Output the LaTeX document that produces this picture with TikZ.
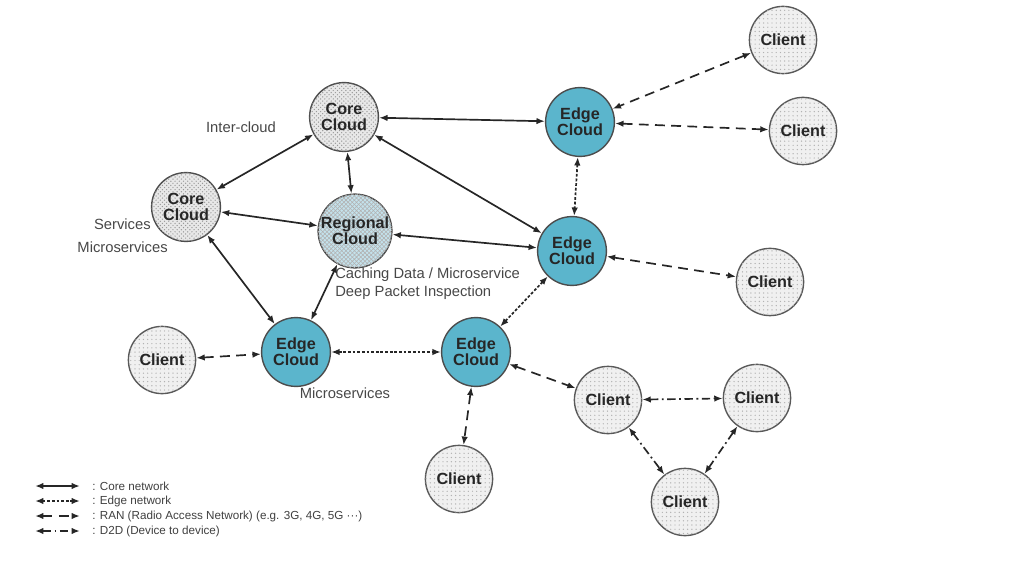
\documentclass[tikz,border=0pt]{standalone}
\usepackage{fontspec}
\setmainfont{Liberation Sans}
\usetikzlibrary{arrows.meta,patterns}
\definecolor{edgeblue}{HTML}{5BB5CC}
\definecolor{regblue}{HTML}{C4E2EC}
\tikzset{
  x=0.025cm, y=-0.025cm,
  >={Latex[length=6pt,width=4.6pt]},
  cloudtxt/.style={font=\fontsize{11.5}{11.5}\selectfont\bfseries, align=center, text=black!85},
  corecloud/.style={circle, draw=black!70, line width=1pt, minimum size=1.72cm, inner sep=0pt, cloudtxt,
     fill=gray!18, postaction={pattern=crosshatch dots, pattern color=black!40}},
  regcloud/.style={circle, draw=black!70, line width=1pt, minimum size=1.72cm, inner sep=0pt, cloudtxt,
     fill=regblue, postaction={pattern=crosshatch, pattern color=black!30}},
  edgecloud/.style={circle, draw=black!70, line width=1pt, minimum size=1.72cm, inner sep=0pt, cloudtxt,
     fill=edgeblue},
  clientnode/.style={circle, draw=black!65, line width=1pt, minimum size=1.68cm, inner sep=0pt, cloudtxt,
     fill=gray!12, postaction={pattern=dots, pattern color=black!30}},
  lbl/.style={font=\fontsize{10.5}{12.5}\selectfont, text=black!72, inner sep=0pt},
  legtxt/.style={font=\fontsize{8.3}{10}\selectfont, text=black!75, anchor=west, inner sep=0pt},
  corenet/.style={<->, line width=1.2pt, black!85},
  edgenet/.style={<->, line width=1.2pt, black!85, dash pattern=on 2pt off 1.3pt},
  rannet/.style={<->, line width=1.2pt, black!85, dash pattern=on 7pt off 4.5pt},
  d2dnet/.style={<->, line width=1.2pt, black!85, dash pattern=on 6pt off 2.5pt on 1.3pt off 2.5pt},
}
\begin{document}
\begin{tikzpicture}
\useasboundingbox (0,0) rectangle (1024,563);
% nodes
\node[corecloud] (ct) at (344,117) {Core\\Cloud};
\node[corecloud] (cl) at (186,207) {Core\\Cloud};
\node[regcloud] (rg) at (355,231) {Regional\\Cloud};
\node[edgecloud] (e1) at (580,122) {Edge\\Cloud};
\node[edgecloud] (e2) at (572,251) {Edge\\Cloud};
\node[edgecloud] (e3) at (296,352) {Edge\\Cloud};
\node[edgecloud] (e4) at (476,352) {Edge\\Cloud};
\node[clientnode] (c1) at (783,40) {Client};
\node[clientnode] (c2) at (803,131) {Client};
\node[clientnode] (c3) at (770,282) {Client};
\node[clientnode] (c4) at (162,360) {Client};
\node[clientnode] (c5) at (608,400) {Client};
\node[clientnode] (c6) at (757,398) {Client};
\node[clientnode] (c7) at (685,502) {Client};
\node[clientnode] (c8) at (459,479) {Client};
% labels
\node[lbl] (t1) at (241,127) {Inter-cloud};
\node[lbl, anchor=east] (t2) at (151,224) {Services};
\node[lbl, anchor=east] (t3) at (168,247) {Microservices};
\node[lbl, anchor=north west, align=left] (t4) at (335,268) {Caching Data / Microservice\\Deep Packet Inspection};
\node[lbl] (t5) at (345,393) {Microservices};
% core network
\draw[corenet] (ct) -- (e1);
\draw[corenet] (ct) -- (e2);
\draw[corenet] (ct) -- (cl);
\draw[corenet] (ct) -- (rg);
\draw[corenet] (cl) -- (rg);
\draw[corenet] (rg) -- (e2);
\draw[corenet] (cl) -- (e3);
\draw[corenet] (rg.242) -- (e3);
% edge network
\draw[edgenet] (e1) -- (e2);
\draw[edgenet] (e2) -- (e4);
\draw[edgenet] (e3) -- (e4);
% RAN
\draw[rannet] (c1) -- (e1);
\draw[rannet] (e1) -- (c2);
\draw[rannet] (e2) -- (c3);
\draw[rannet] (c4) -- (e3);
\draw[rannet] (e4) -- (c8);
\draw[rannet] (e4) -- (c5);
% D2D
\draw[d2dnet] (c5) -- (c6);
\draw[d2dnet] (c5) -- (c7);
\draw[d2dnet] (c6) -- (c7);
% legend
\coordinate (la1) at (35,486); \coordinate (lb1) at (80,486);
\coordinate (la2) at (35,501); \coordinate (lb2) at (80,501);
\coordinate (la3) at (35,516); \coordinate (lb3) at (80,516);
\coordinate (la4) at (35,531); \coordinate (lb4) at (80,531);
\draw[corenet] (la1) -- (lb1);
\draw[edgenet] (la2) -- (lb2);
\draw[rannet] (la3) -- (lb3);
\draw[d2dnet] (la4) -- (lb4);
\node[legtxt] (l1) at (92,486) {: Core network};
\node[legtxt] (l2) at (92,501) {: Edge network};
\node[legtxt] (l3) at (92,516) {: RAN (Radio Access Network) (e.g. 3G, 4G, 5G \textperiodcentered\textperiodcentered\textperiodcentered)};
\node[legtxt] (l4) at (92,531) {: D2D (Device to device)};
\end{tikzpicture}
\end{document}
